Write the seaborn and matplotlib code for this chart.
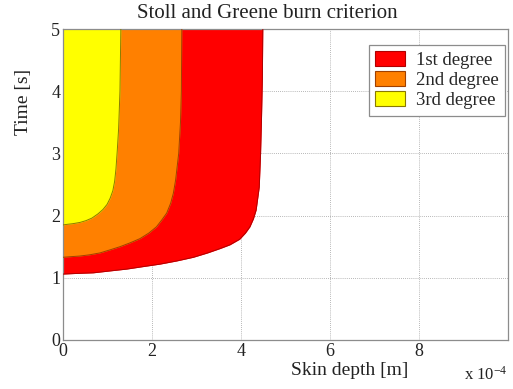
import numpy as np
import pandas as pd
import seaborn as sns
import matplotlib
matplotlib.use("Agg")
import matplotlib.pyplot as plt
from matplotlib.patches import Patch

# Burn thresholds: exposure time [s] against skin depth [x 1e-4 m]
first_time = [1.06, 1.07, 1.08, 1.11, 1.14, 1.18, 1.22, 1.27, 1.33, 1.40, 1.47,
              1.53, 1.62, 1.72, 1.82, 1.95, 2.09, 2.46, 3.00, 3.54, 4.20, 5.00]
first_depth = [0.00, 0.30, 0.68, 1.05, 1.43, 1.80, 2.18, 2.55, 2.93, 3.25, 3.53,
               3.75, 3.97, 4.10, 4.20, 4.28, 4.34, 4.41, 4.44, 4.46, 4.48, 4.49]

second_time = [1.33, 1.34, 1.35, 1.37, 1.40, 1.45, 1.50, 1.56, 1.63, 1.72, 1.82,
               1.93, 2.04, 2.20, 2.36, 2.57, 3.00, 3.50, 4.00, 5.00]
second_depth = [0.00, 0.18, 0.38, 0.60, 0.83, 1.06, 1.28, 1.50, 1.73, 1.93, 2.10,
                2.22, 2.33, 2.42, 2.48, 2.53, 2.60, 2.64, 2.66, 2.67]

third_time = [1.85, 1.86, 1.87, 1.89, 1.92, 1.96, 2.03, 2.10, 2.18, 2.28, 2.40,
              2.55, 2.75, 3.05, 3.40, 4.00, 5.00]
third_depth = [0.00, 0.10, 0.22, 0.38, 0.52, 0.65, 0.79, 0.90, 0.99, 1.06, 1.12,
               1.16, 1.19, 1.22, 1.25, 1.28, 1.30]

labels = ["1st degree", "2nd degree", "3rd degree"]
fills = ["#ff0000", "#ff8000", "#ffff00"]
edges = ["#b00000", "#a04000", "#8a7a00"]

x_ticks = [0, 2, 4, 6, 8]
y_ticks = [0, 1, 2, 3, 4, 5]

sns.set_theme(style="white")
plt.rcParams["font.family"] = ["Liberation Serif", "DejaVu Serif"]
plt.rcParams["mathtext.default"] = "regular"

fig = plt.figure(figsize=(5.13, 3.89), dpi=100)
ax = fig.add_axes([63 / 513, 49 / 389, 445 / 513, 311 / 389])

curves = [
    (first_time, first_depth),
    (second_time, second_depth),
    (third_time, third_depth),
]
for (t, d), fc, ec in zip(curves, fills, edges):
    ax.fill_betweenx(t, 0, d, color=fc, lw=0, zorder=2)
    df = pd.DataFrame({"depth": d, "time": t})
    sns.lineplot(data=df, x="depth", y="time", orient="y", sort=False,
                 estimator=None, color=ec, lw=0.7, ax=ax, zorder=3)

ax.set_xlim(0, 10)
ax.set_ylim(0, 5)
ax.set_xticks(x_ticks)
ax.set_yticks(y_ticks)
ax.set_xticklabels([str(v) for v in x_ticks])
ax.set_yticklabels([str(v) for v in y_ticks])
ax.grid(True, color="#a0a0a0", ls=(0, (1, 1.5)), lw=0.6, zorder=0)
ax.set_axisbelow(True)
for sp in ax.spines.values():
    sp.set_color("#8c8c8c")
    sp.set_linewidth(0.9)
ax.tick_params(direction="in", length=3, color="#8c8c8c", labelsize=13,
               labelcolor="#222222", pad=2)
ax.tick_params(axis="x", pad=2.5)

ax.set_xlabel("Skin depth [m]", fontsize=14, color="#222222")
ax.xaxis.set_label_coords(0.645, -0.071)
ax.xaxis.label.set_va("top")
ax.set_ylabel("Time [s]", fontsize=14, color="#222222")
ax.yaxis.set_label_coords(-0.070, 0.767)

fig.text(267 / 513, 1 - 13 / 389, "Stoll and Greene burn criterion",
         ha="center", va="center", fontsize=15, color="#222222")
fig.text(486 / 513, 1 - 375 / 389, "x 10$^{-4}$", ha="center", va="center",
         fontsize=12, color="#222222")

handles = [Patch(facecolor=fc, edgecolor=ec, lw=0.8) for fc, ec in zip(fills, edges)]
leg = ax.legend(handles, labels, loc="upper right", bbox_to_anchor=(0.993, 0.949),
                fontsize=13.5, frameon=True, fancybox=False, framealpha=1,
                edgecolor="#8c8c8c", handlelength=1.6, handleheight=0.8,
                handletextpad=0.55, borderpad=0.35, labelspacing=0.12,
                borderaxespad=0)
leg.get_frame().set_linewidth(0.9)

fig.savefig("out.png", dpi=100)
